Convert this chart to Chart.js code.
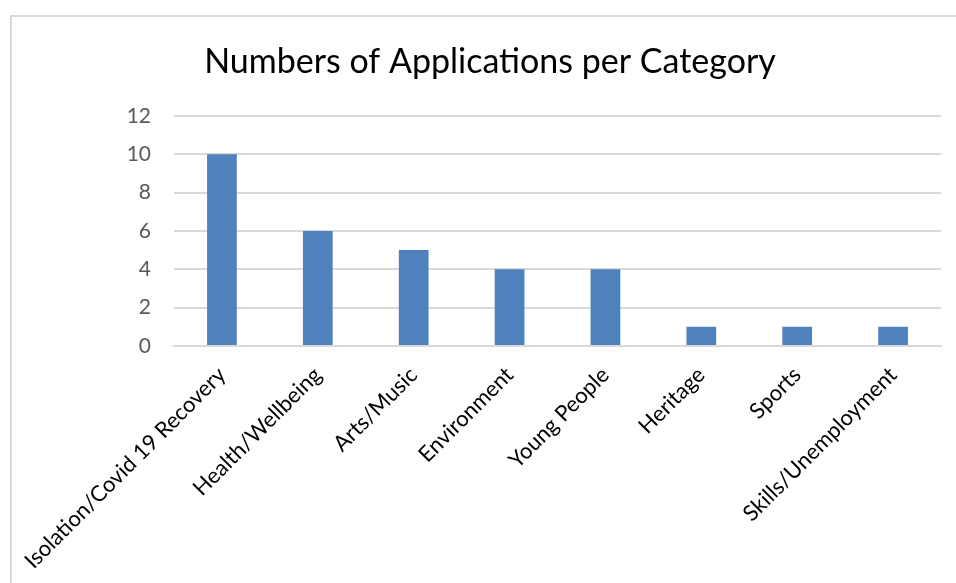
<!DOCTYPE html>
<html>
<head>
<meta charset="utf-8">
<script src="https://cdn.jsdelivr.net/npm/chart.js@4/dist/chart.umd.min.js"></script>
<style>
  html, body { margin: 0; padding: 0; background: #fff; }
  #frame {
    position: absolute; left: 10px; top: 15px; width: 960px; height: 600px;
    border-left: 2px solid #d9d9d9; border-top: 2px solid #d9d9d9;
  }
  #wrap { position: absolute; left: 0; top: 0; width: 956px; height: 583px; }
</style>
</head>
<body>
<div id="frame"></div>
<div id="wrap"><canvas id="myChart1"></canvas></div>
<script>
const categories = ['Isolation/Covid 19 Recovery', 'Health/Wellbeing', 'Arts/Music', 'Environment',
    'Young People', 'Heritage', 'Sports', 'Skills/Unemployment'];
const applications = [10, 6, 5, 4, 4, 1, 1, 1];
const yTicks = [0, 2, 4, 6, 8, 10, 12];

const ctx = document.getElementById('myChart1').getContext("2d");

const dataApps = {
    labels: categories,
    datasets: [
        {
            data: applications,
            label: "",
            backgroundColor: '#4f81bd',
            borderWidth: 0,
            barPercentage: 0.62,
            categoryPercentage: 0.5
        }
    ]
};

const configApps = {
    type: 'bar',
    data: dataApps,
    options: {
        responsive: true,
        maintainAspectRatio: false,
        animation: false,
        layout: {
            padding: { left: 39, right: 15, top: 0, bottom: 0 }
        },
        plugins: {
            legend: false,
            tooltip: { enabled: false },
            title: {
                display: true,
                text: 'Numbers of Applications per Category',
                color: '#000',
                font: { family: 'Lato', size: 34, weight: 'normal' },
                padding: { top: 42, bottom: 33 }
            }
        },
        scales: {
            x: {
                grid: { display: false, drawTicks: false },
                border: { display: true, color: '#d9d9d9', width: 2 },
                ticks: {
                    color: '#000',
                    font: { family: 'Lato', size: 22 },
                    minRotation: 45,
                    maxRotation: 45,
                    padding: 16,
                    autoSkip: false
                },
                afterFit: function (scale) {
                    scale.height = 237;
                }
            },
            y: {
                min: 0,
                max: 12,
                afterBuildTicks: function (scale) {
                    scale.ticks = yTicks.map(v => ({ value: v }));
                },
                grid: { color: '#d9d9d9', lineWidth: 2, drawTicks: false },
                border: { display: false },
                ticks: {
                    color: '#595959',
                    font: { family: 'Lato', size: 21 },
                    padding: 23
                },
                afterFit: function (scale) {
                    scale.width = 135;
                }
            }
        }
    }
};

new Chart(ctx, configApps);
</script>
</body>
</html>
